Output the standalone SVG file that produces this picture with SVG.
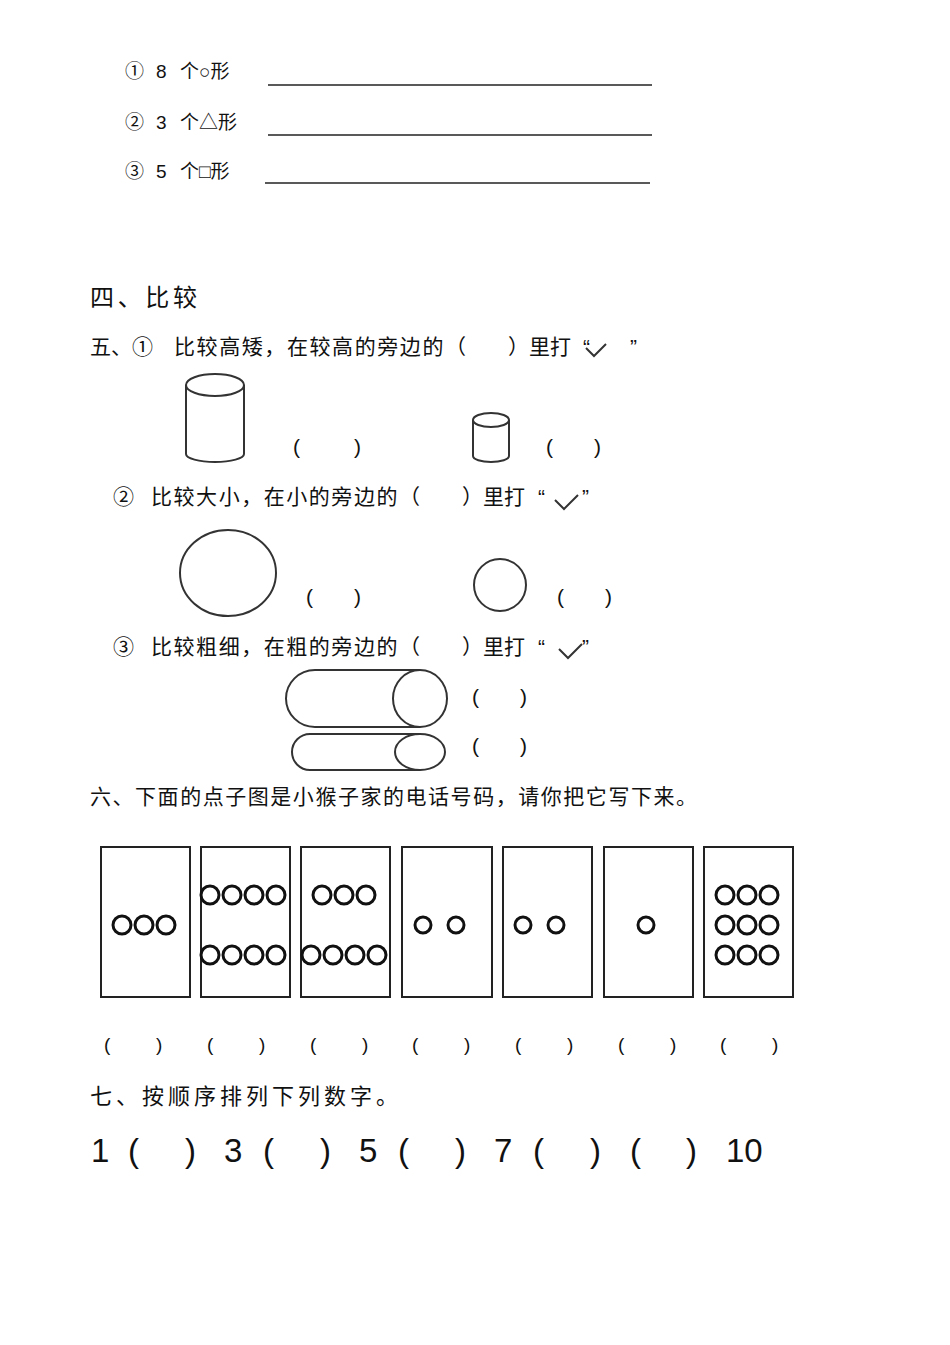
<svg xmlns="http://www.w3.org/2000/svg" width="950" height="1345" viewBox="0 0 950 1345">
<style>
text{font-family:"Liberation Sans","Noto Sans CJK SC",sans-serif;fill:#111}
.t{font-size:21px}.s{font-size:19px}.b{font-size:33px}
.sh{fill:none;stroke:#333;stroke-width:2}
.c{fill:none;stroke:#111;stroke-width:3}
.k{fill:#fff;stroke:#222;stroke-width:2}
.l{stroke:#222;stroke-width:1.3}
</style>
<rect width="950" height="1345" fill="#fff"/>
<g class="s">
<text class="s" x="125" y="78">①</text><text class="s" x="156" y="78">8</text><text class="s" x="180" y="78">个○形</text>
<text class="s" x="125" y="129">②</text><text class="s" x="156" y="129">3</text><text class="s" x="180" y="129">个△形</text>
<text class="s" x="125" y="178">③</text><text class="s" x="156" y="178">5</text><text class="s" x="180" y="178">个□形</text>
</g>
<line class="l" x1="268" y1="85" x2="652" y2="85"/>
<line class="l" x1="268" y1="135" x2="652" y2="135"/>
<line class="l" x1="265" y1="183" x2="650" y2="183"/>
<text x="90" y="306" style="font-size:24px" textLength="107">四、比较</text>
<text class="t" x="90" y="354">五、①</text>
<text class="t" x="174" y="354" textLength="292">比较高矮，在较高的旁边的（</text>
<text class="t" x="508" y="354">）里打</text><text class="t" x="583" y="354">“</text><text class="t" x="630" y="354">”</text>
<path class="sh" d="M586 348l8 8 12-12" stroke-width="1.5"/>
<path class="sh" d="M186 385v69a29 8 0 0 0 58 0v-69"/><ellipse class="sh" cx="215" cy="385" rx="29" ry="11"/>
<path class="sh" d="M473 420v36a18 6 0 0 0 36 0v-36"/><ellipse class="sh" cx="491" cy="420" rx="18" ry="7"/>
<g class="t"><text class="t" x="293" y="454">(</text><text class="t" x="354" y="454">)</text><text class="t" x="546" y="454">(</text><text class="t" x="594" y="454">)</text></g>
<text class="t" x="113" y="504">②</text>
<text class="t" x="151" y="504" textLength="269">比较大小，在小的旁边的（</text>
<text class="t" x="462" y="504">）里打</text><text class="t" x="538" y="504">“</text><text class="t" x="582" y="504">”</text>
<path class="sh" d="M555 500l9 9 14-14" stroke-width="1.5"/>
<ellipse class="sh" cx="228" cy="573" rx="48" ry="43"/>
<circle class="sh" cx="500" cy="585" r="26"/>
<g class="t"><text class="t" x="306" y="604">(</text><text class="t" x="354" y="604">)</text><text class="t" x="557" y="604">(</text><text class="t" x="605" y="604">)</text></g>
<text class="t" x="113" y="654">③</text>
<text class="t" x="151" y="654" textLength="269">比较粗细，在粗的旁边的（</text>
<text class="t" x="462" y="654">）里打</text><text class="t" x="538" y="654">“</text><text class="t" x="582" y="654">”</text>
<path class="sh" d="M559 649l9 9 14-14" stroke-width="1.5"/>
<path class="sh" d="M420 670h-105a29 28.5 0 0 0 0 57h105"/><ellipse class="sh" cx="420" cy="698.5" rx="27" ry="28.5"/>
<path class="sh" d="M420 734h-110a18 18 0 0 0 0 36h110"/><ellipse class="sh" cx="420" cy="752" rx="25" ry="18"/>
<g class="t"><text class="t" x="472" y="704">(</text><text class="t" x="520" y="704">)</text><text class="t" x="472" y="753">(</text><text class="t" x="520" y="753">)</text></g>
<text class="t" x="90" y="804" textLength="607">六、下面的点子图是小猴子家的电话号码，请你把它写下来。</text>
<g>
<rect class="k" x="101" y="847" width="89" height="150"/>
<rect class="k" x="201" y="847" width="89" height="150"/>
<rect class="k" x="301" y="847" width="89" height="150"/>
<rect class="k" x="402" y="847" width="90" height="150"/>
<rect class="k" x="503" y="847" width="89" height="150"/>
<rect class="k" x="604" y="847" width="89" height="150"/>
<rect class="k" x="704" y="847" width="89" height="150"/>
</g>
<g>
<circle class="c" cx="122" cy="925" r="9"/><circle class="c" cx="144" cy="925" r="9"/><circle class="c" cx="166" cy="925" r="9"/>
<circle class="c" cx="210" cy="895" r="9"/><circle class="c" cx="232" cy="895" r="9"/><circle class="c" cx="254" cy="895" r="9"/><circle class="c" cx="276" cy="895" r="9"/>
<circle class="c" cx="210" cy="955" r="9"/><circle class="c" cx="232" cy="955" r="9"/><circle class="c" cx="254" cy="955" r="9"/><circle class="c" cx="276" cy="955" r="9"/>
<circle class="c" cx="322" cy="895" r="9"/><circle class="c" cx="344" cy="895" r="9"/><circle class="c" cx="366" cy="895" r="9"/>
<circle class="c" cx="311" cy="955" r="9"/><circle class="c" cx="333" cy="955" r="9"/><circle class="c" cx="355" cy="955" r="9"/><circle class="c" cx="377" cy="955" r="9"/>
<circle class="c" cx="423" cy="925" r="8"/><circle class="c" cx="456" cy="925" r="8"/>
<circle class="c" cx="523" cy="925" r="8"/><circle class="c" cx="556" cy="925" r="8"/>
<circle class="c" cx="646" cy="925" r="8"/>
<circle class="c" cx="725" cy="895" r="9"/><circle class="c" cx="747" cy="895" r="9"/><circle class="c" cx="769" cy="895" r="9"/>
<circle class="c" cx="725" cy="925" r="9"/><circle class="c" cx="747" cy="925" r="9"/><circle class="c" cx="769" cy="925" r="9"/>
<circle class="c" cx="725" cy="955" r="9"/><circle class="c" cx="747" cy="955" r="9"/><circle class="c" cx="769" cy="955" r="9"/>
</g>
<g>
<text class="s" x="104" y="1051">(</text><text class="s" x="156" y="1051">)</text>
<text class="s" x="207" y="1051">(</text><text class="s" x="259" y="1051">)</text>
<text class="s" x="310" y="1051">(</text><text class="s" x="362" y="1051">)</text>
<text class="s" x="412" y="1051">(</text><text class="s" x="464" y="1051">)</text>
<text class="s" x="515" y="1051">(</text><text class="s" x="567" y="1051">)</text>
<text class="s" x="618" y="1051">(</text><text class="s" x="670" y="1051">)</text>
<text class="s" x="720" y="1051">(</text><text class="s" x="772" y="1051">)</text>
</g>
<text class="t" x="90" y="1104" textLength="308" style="font-size:22px">七、按顺序排列下列数字。</text>
<g>
<text class="b" x="91" y="1162">1</text><text class="b" x="128" y="1162">(</text><text class="b" x="185" y="1162">)</text>
<text class="b" x="224" y="1162">3</text><text class="b" x="263" y="1162">(</text><text class="b" x="320" y="1162">)</text>
<text class="b" x="359" y="1162">5</text><text class="b" x="398" y="1162">(</text><text class="b" x="455" y="1162">)</text>
<text class="b" x="494" y="1162">7</text><text class="b" x="533" y="1162">(</text><text class="b" x="590" y="1162">)</text>
<text class="b" x="630" y="1162">(</text><text class="b" x="686" y="1162">)</text>
<text class="b" x="726" y="1162">10</text>
</g>
</svg>
